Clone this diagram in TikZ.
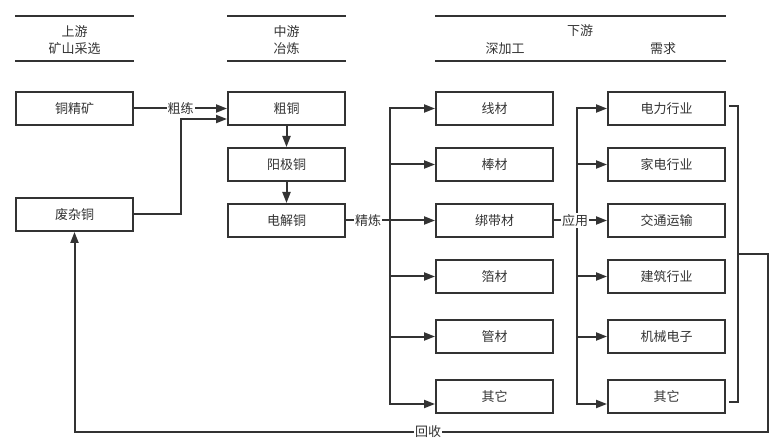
\documentclass[tikz,border=0pt]{standalone}
\usepackage{fontspec}
\setmainfont{Noto Sans CJK SC}
\usetikzlibrary{arrows.meta}
\definecolor{linea}{HTML}{333333}

\begin{document}
\begin{tikzpicture}[x=1pt, y=-1pt, line width=2pt, color=linea,
    font=\fontsize{13}{15}\selectfont,
    box/.style={draw, minimum width=117pt, minimum height=33pt, inner sep=0pt},
    arr/.style={-{Triangle[length=11pt,width=8pt]}},
    lbl/.style={fill=white, inner sep=1pt}]

    \useasboundingbox (0,0) rectangle (778,443);

    % Intestazioni
    \draw (15,16) -- (134,16);
    \draw (15,61) -- (134,61);
    \node (hup) at (74.5,32) {上游};
    \node (hupb) at (74.5,49) {矿山采选};

    \draw (227,16) -- (346,16);
    \draw (227,61) -- (346,61);
    \node (hmid) at (286.5,32) {中游};
    \node (hmidb) at (286.5,49) {冶炼};

    \draw (435,16) -- (726,16);
    \draw (435,61) -- (726,61);
    \node (hdown) at (580,31) {下游};
    \node (hdeep) at (505,49) {深加工};
    \node (hneed) at (663,49) {需求};

    % Monte e medio
    \node[box] (ore) at (74.5,108.5) {铜精矿};
    \node[box] (scrap) at (74.5,214.5) {废杂铜};
    \node[box] (crude) at (286.5,108.5) {粗铜};
    \node[box] (anode) at (286.5,164.5) {阳极铜};
    \node[box] (cathode) at (286.5,220.5) {电解铜};

    % Valle: lavorazione
    \node[box] (wire) at (494.5,108.5) {线材};
    \node[box] (rod) at (494.5,164.5) {棒材};
    \node[box] (band) at (494.5,220.5) {绑带材};
    \node[box] (foil) at (494.5,276.5) {箔材};
    \node[box] (tube) at (494.5,336.5) {管材};
    \node[box] (otherA) at (494.5,396.5) {其它};

    % Valle: domanda
    \node[box] (power) at (666.5,108.5) {电力行业};
    \node[box] (appliance) at (666.5,164.5) {家电行业};
    \node[box] (traffic) at (666.5,220.5) {交通运输};
    \node[box] (building) at (666.5,276.5) {建筑行业};
    \node[box] (machine) at (666.5,336.5) {机械电子};
    \node[box] (otherB) at (666.5,396.5) {其它};

    % Frecce a sinistra
    \draw[arr] (ore) -- node[lbl] {粗练} (crude);
    \draw[arr] (scrap.east) -- ++(47,0) |- ([yshift=-10.5pt]crude.west);
    \draw[arr] (crude) -- (anode);
    \draw[arr] (anode) -- (cathode);

    % Raffinazione
    \coordinate (split) at (390,220.5);
    \draw[arr] (split) |- (wire);
    \draw[arr] (split) |- ([yshift=-7.5pt]otherA.west);
    \draw[arr] (split |- rod) -- (rod);
    \draw[arr] (split) -- (band);
    \draw[arr] (split |- foil) -- (foil);
    \draw[arr] (split |- tube) -- (tube);
    \draw (cathode) -- node[lbl] {精炼} (split);

    % Applicazioni
    \coordinate (hub) at (577,220.5);
    \draw[arr] (hub) |- (power);
    \draw[arr] (hub) |- ([yshift=-7.5pt]otherB.west);
    \draw[arr] (hub |- appliance) -- (appliance);
    \draw[arr] (hub |- building) -- (building);
    \draw[arr] (hub |- machine) -- (machine);
    \draw[arr] (band) -- node[lbl, pos=0.4] {应用} (traffic);

    % Riciclo
    \coordinate (bk) at (738,254);
    \coordinate (ret) at (768,432);
    \draw ([xshift=3pt,yshift=2pt]power.east) -| (bk) |- ([xshift=3pt,yshift=-5.5pt]otherB.east);
    \draw[arr] (bk) -| (ret) -- node[lbl, pos=0.49] {回收} (scrap.south |- ret) -- (scrap);

\end{tikzpicture}
\end{document}
